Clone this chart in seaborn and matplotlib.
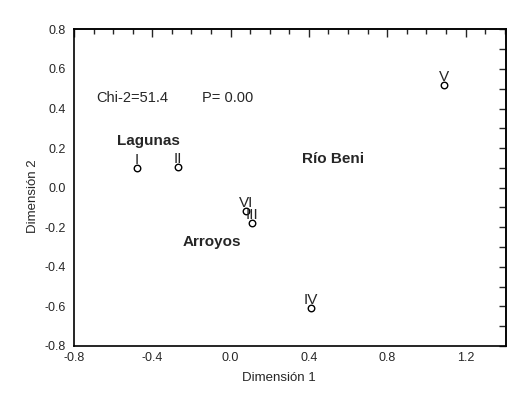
import numpy as np
import pandas as pd
import seaborn as sns
import matplotlib.pyplot as plt
from matplotlib.ticker import MultipleLocator

# coordinates of the sites on the first two dimensions
sites = ['I', 'II', 'III', 'IV', 'V', 'VI']
dim1 = [-0.48, -0.27, 0.107, 0.41, 1.09, 0.077]
dim2 = [0.10, 0.105, -0.177, -0.61, 0.52, -0.12]

# group labels placed in the plot
groups = ['Lagunas', 'Río Beni', 'Arroyos']
group_x = [-0.422, 0.525, -0.095]
group_y = [0.235, 0.145, -0.275]

df = pd.DataFrame({'site': sites, 'Dimensión 1': dim1, 'Dimensión 2': dim2})

sns.set_style('white')
plt.rcParams['font.family'] = ['Liberation Sans', 'DejaVu Sans']

fig = plt.figure(figsize=(5.24, 3.97), dpi=100)
ax = fig.add_axes([0.1412, 0.1285, 0.8238, 0.7975])

sns.scatterplot(data=df, x='Dimensión 1', y='Dimensión 2', ax=ax,
                marker='o', s=22, facecolor='white', edgecolor='black',
                linewidth=1.0, zorder=3)

for name, x, y in zip(sites, dim1, dim2):
    ax.annotate(name, (x, y), xytext=(0, 0.8), textcoords='offset points',
                ha='center', va='bottom', fontsize=11)

for name, x, y in zip(groups, group_x, group_y):
    ax.text(x, y, name, ha='center', va='center', fontsize=11, fontweight='bold')

ax.text(-0.684, 0.453, 'Chi-2=51.4', ha='left', va='center', fontsize=10.5)
ax.text(-0.148, 0.453, 'P= 0.00', ha='left', va='center', fontsize=10.5)

ax.set_xlim(-0.8, 1.405)
ax.set_ylim(-0.8, 0.8)
ax.xaxis.set_major_locator(MultipleLocator(0.4))
ax.xaxis.set_minor_locator(MultipleLocator(0.1))
ax.yaxis.set_major_locator(MultipleLocator(0.2))
ax.xaxis.set_major_formatter(lambda v, p: f'{v:.1f}' if v < 1.3 else '')
ax.yaxis.set_major_formatter(lambda v, p: f'{v:.1f}')

ax.tick_params(axis='x', which='major', direction='in', length=6, width=1,
               labelsize=9, pad=4)
ax.tick_params(axis='x', which='minor', direction='in', length=3.5, width=1)
ax.tick_params(axis='y', which='major', direction='out', length=4, width=1,
               labelsize=9, pad=2)

top = ax.secondary_xaxis('top')
top.xaxis.set_major_locator(MultipleLocator(0.4))
top.xaxis.set_minor_locator(MultipleLocator(0.1))
top.tick_params(which='major', direction='in', length=6, width=1, labeltop=False)
top.tick_params(which='minor', direction='in', length=3.5, width=1)

right = ax.secondary_yaxis('right')
right.yaxis.set_major_locator(MultipleLocator(0.2))
right.yaxis.set_minor_locator(MultipleLocator(0.1))
right.tick_params(which='both', direction='in', length=5, width=1, labelright=False)

for sp in ax.spines.values():
    sp.set_color('black')
    sp.set_linewidth(1.2)
for s in (top, right):
    for sp in s.spines.values():
        sp.set_linewidth(1.2)

ax.set_xlabel('Dimensión 1', fontsize=9.5, va='center')
ax.set_ylabel('Dimensión 2', fontsize=9.5, va='center')
ax.xaxis.set_label_coords(0.475, -0.101)
ax.yaxis.set_label_coords(-0.095, 0.474)

fig.savefig('out.png', dpi=100)
